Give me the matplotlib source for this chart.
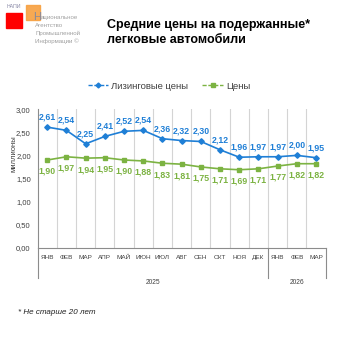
import matplotlib.pyplot as plt
from matplotlib.lines import Line2D
from matplotlib.patches import Rectangle

months = ["ЯНВ", "ФЕВ", "МАР", "АПР", "МАЙ", "ИЮН", "ИЮЛ", "АВГ",
          "СЕН", "ОКТ", "НОЯ", "ДЕК", "ЯНВ", "ФЕВ", "МАР"]
years = ["2025", "2026"]
year_len = [12, 3]
lease_prices = [2.61, 2.54, 2.25, 2.41, 2.52, 2.54, 2.36, 2.32, 2.30,
                2.12, 1.96, 1.97, 1.97, 2.00, 1.95]
market_prices = [1.90, 1.97, 1.94, 1.95, 1.90, 1.88, 1.83, 1.81, 1.75,
                 1.71, 1.69, 1.71, 1.77, 1.82, 1.82]

BLUE = "#1f7fd6"
GREEN = "#7cb342"
GRID = "#d4d4d4"
AXIS = "#8c8c8c"

plt.rcParams["font.family"] = ["Liberation Sans", "DejaVu Sans"]


def fmt(v):
    return f"{v:.2f}".replace(".", ",")


def main():
    fig = plt.figure(figsize=(3.38, 3.38), dpi=100)
    ax = fig.add_axes([0.1115, 0.2663, 0.852, 0.411])

    x = list(range(len(months)))
    ax.plot(x, lease_prices, color=BLUE, lw=1.2, marker="D", ms=2.8,
            zorder=3)
    ax.plot(x, market_prices, color=GREEN, lw=1.2, marker="s", ms=3,
            zorder=3)

    for xi, v in zip(x, lease_prices):
        ax.annotate(fmt(v), (xi, v), xytext=(0, 4), textcoords="offset points",
                    ha="center", va="bottom", fontsize=6.3, color=BLUE,
                    fontweight="bold")
    for xi, v in zip(x, market_prices):
        ax.annotate(fmt(v), (xi, v), xytext=(0, -5), textcoords="offset points",
                    ha="center", va="top", fontsize=6.3, color=GREEN,
                    fontweight="bold")

    ax.set_xlim(-0.5, len(months) - 0.5)
    ax.set_ylim(0, 3)
    ax.set_yticks([0, 0.5, 1, 1.5, 2, 2.5, 3])
    ax.set_yticklabels([fmt(t) for t in ax.get_yticks()], fontsize=5.5,
                       color="#404040")
    ax.set_xticks(x)
    ax.set_xticklabels(months, fontsize=4.6, color="#404040")
    ax.tick_params(axis="both", length=0, pad=5)

    # вертикальная сетка по границам категорий
    for b in range(1, len(months)):
        ax.axvline(b - 0.5, color=GRID, lw=0.8, zorder=1)

    for s in ["top", "right"]:
        ax.spines[s].set_visible(False)
    ax.spines["left"].set_color(AXIS)
    ax.spines["bottom"].set_color(AXIS)
    ax.spines["left"].set_linewidth(0.8)
    ax.spines["bottom"].set_linewidth(0.8)

    # разделители годов под осью
    tr = ax.get_xaxis_transform()
    edges = [-0.5]
    for n in year_len:
        edges.append(edges[-1] + n)
    for e in edges:
        ax.plot([e, e], [0, -0.215], transform=tr, color=AXIS, lw=0.8,
                clip_on=False)
    for i, yr in enumerate(years):
        ax.text((edges[i] + edges[i + 1]) / 2, -0.25, yr, transform=tr,
                ha="center", va="center", fontsize=4.8, color="#404040")

    ax.text(-0.082, 0.68, "миллионы", transform=ax.transAxes, rotation=90,
            ha="center", va="center", fontsize=5.5, color="#404040")

    handles = [
        Line2D([], [], color=BLUE, lw=1, ls=(0, (3, 1.2)), marker="D", ms=2.5),
        Line2D([], [], color=GREEN, lw=1, ls=(0, (3, 1.2)), marker="s", ms=2.8),
    ]
    fig.legend(handles, ["Лизинговые цены", "Цены"], loc="center",
               bbox_to_anchor=(0.5, 0.745), ncol=2, frameon=False,
               fontsize=6.8, handlelength=2.2, columnspacing=1.5,
               handletextpad=0.3, labelcolor="#404040")

    # заголовок
    fig.text(0.318, 1 - 32.5 / 338,
             "Средние цены на подержанные*\nлегковые автомобили",
             ha="left", va="center", fontsize=9, fontweight="bold",
             linespacing=1.25)

    # логотип НАПИ
    fig.add_artist(Rectangle((6 / 338, 1 - 28 / 338), 16 / 338, 15 / 338,
                             transform=fig.transFigure, color="#ff0000"))
    fig.add_artist(Rectangle((26 / 338, 1 - 20 / 338), 14 / 338, 15 / 338,
                             transform=fig.transFigure, color="#f7a040",
                             alpha=0.9))
    fig.text(7 / 338, 1 - 7 / 338, "НАПИ", fontsize=3.8, color="#8a8aa8",
             ha="left", va="center")
    fig.text(33 / 338, 1 - 17 / 338, "Н", fontsize=8, color="#8a8a9a",
             ha="left", va="center", zorder=5)
    fig.text(40.5 / 338, 1 - 17.5 / 338, "ациональное", fontsize=4.4,
             color="#a0a0a0", ha="left", va="center")
    for i, line in enumerate(["Агентство", "Промышленной", "Информации ©"]):
        fig.text(35 / 338, 1 - (25.5 + 8 * i) / 338, line, fontsize=4.4,
                 color="#a0a0a0", ha="left", va="center")

    fig.text(18 / 338, 1 - 312 / 338, "* Не старше 20 лет", fontsize=5.8,
             style="italic", color="#202020", ha="left", va="center")

    fig.savefig("out.png", dpi=100)
    plt.close(fig)


if __name__ == "__main__":
    main()
